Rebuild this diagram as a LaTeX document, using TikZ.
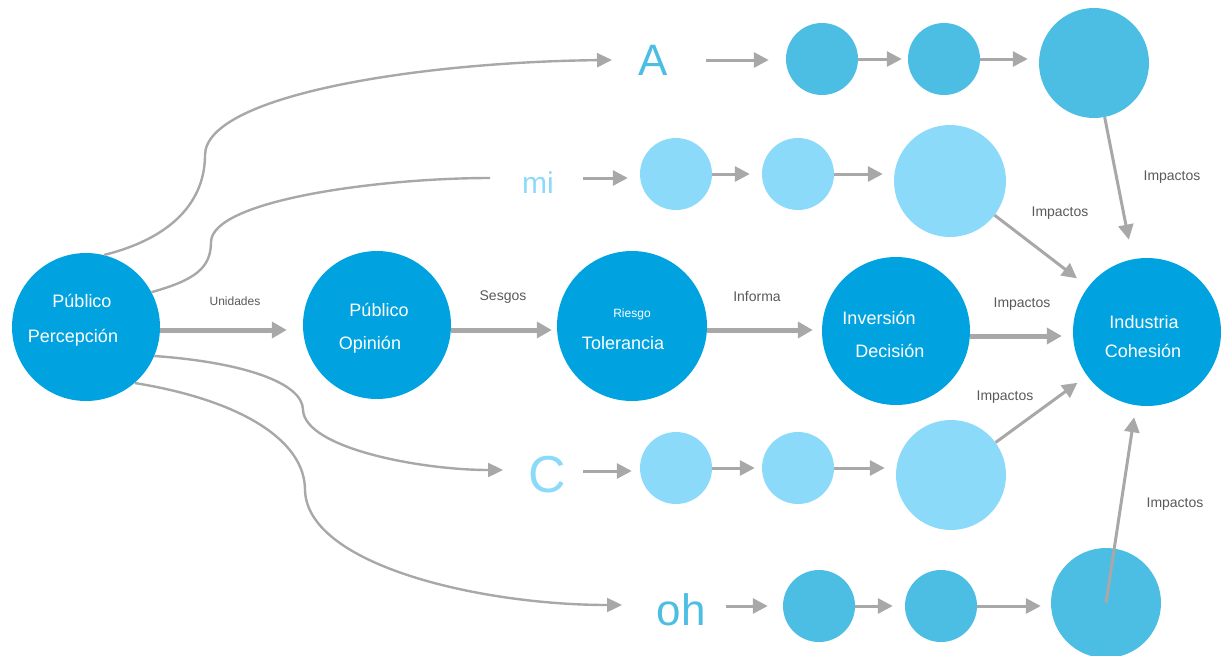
\documentclass[tikz,border=0pt]{standalone}
\usepackage{fontspec}
\setmainfont{Liberation Sans}
\usetikzlibrary{arrows.meta}
\definecolor{mainblue}{HTML}{00A3E0}
\definecolor{midblue}{HTML}{4DBEE3}
\definecolor{lightblue}{HTML}{8CDAF9}
\definecolor{linegray}{HTML}{A8A8A8}
\definecolor{labelgray}{HTML}{595959}
\newcommand{\fs}[1]{\fontsize{#1}{#1}\selectfont}
\begin{document}
\begin{tikzpicture}[x=1pt,y=-1pt,
  bubble/.style={circle, inner sep=0pt, minimum size=#1},
  hub/.style={bubble=148pt, fill=mainblue},
  midbub/.style={bubble=#1, fill=midblue},
  lightbub/.style={bubble=#1, fill=lightblue},
  intext/.style={text=white, font=\fs{18}, inner sep=0pt},
  edgelabel/.style={text=labelgray, font=\fs{14}, inner sep=0pt},
  rowlabel/.style={inner sep=0pt, font=\fs{#1}},
  mainarrow/.style={draw=linegray, line width=5pt, -{Triangle[length=15pt,width=16pt]}},
  thinarrow/.style={draw=linegray, line width=3pt, -{Triangle[length=15pt,width=15pt]}},
  curveline/.style={draw=linegray, line width=2.4pt},
  curvearrow/.style={curveline, -{Triangle[length=15pt,width=14pt]}}
]
\useasboundingbox (0,0) rectangle (1221,656);

% main chain
\node[hub] (perc) at (86,327) {};
\node[hub] (opin) at (377,325) {};
\node[hub, minimum size=150pt] (tol) at (632,326) {};
\node[hub] (inv) at (896,331) {};
\node[hub] (ind) at (1147,332) {};

\node[intext] (percA) at (82,301) {Público};
\node[intext] (percB) at (73,338) {Percepción};
\node[intext] (opinA) at (379,310) {Público};
\node[intext] (opinB) at (370,345) {Opinión};
\node[intext, font=\fs{12}] (tolA) at (632,314) {Riesgo};
\node[intext] (tolB) at (623,343) {Tolerancia};
\node[intext] (invA) at (879,318) {Inversión};
\node[intext] (invB) at (890,351) {Decisión};
\node[intext] (indA) at (1144,322) {Industria};
\node[intext] (indB) at (1143,351) {Cohesión};

\draw[mainarrow, shorten >=16pt] (perc.east |- 0,330) -- (opin.west |- 0,330);
\draw[mainarrow, shorten >=5pt] (opin.east |- 0,330) -- (tol.west |- 0,330);
\draw[mainarrow, shorten >=9pt] (tol.east |- 0,330) -- (inv.west |- 0,330);
\draw[mainarrow, shorten >=11pt] (inv.east |- 0,336) -- (ind.west |- 0,336);

\node[edgelabel, font=\fs{12}] (lu) at (235,301) {Unidades};
\node[edgelabel] (ls) at (503,297) {Sesgos};
\node[edgelabel] (li) at (757,296) {Informa};
\node[edgelabel] (lp) at (1022,304) {Impactos};

% row A
\node[rowlabel=44, text=midblue] (A) at (653,60) {A};
\coordinate (Ain) at (612,60);
\coordinate (Aout) at (706,60);
\node[midbub=72pt] (a1) at (822,59) {};
\node[midbub=72pt] (a2) at (944,59) {};
\node[midbub=110pt] (a3) at (1094,63) {};
\draw[thinarrow, shorten >=17pt] (Aout) -- (Aout -| a1.west);
\draw[thinarrow, shorten >=6pt] (a1.east) -- (a2.west);
\draw[thinarrow, shorten >=11pt] (a2.east) -- (a2.east -| a3.west);
\draw[thinarrow, shorten >=20pt] (a3) -- (ind);
\node[edgelabel] (l1) at (1172,177) {Impactos};

% row mi
\node[rowlabel=30, text=lightblue] (M) at (538,183) {mi};
\coordinate (Min) at (490,178);
\coordinate (Mout) at (583,178);
\node[lightbub=72pt] (m1) at (676,174) {};
\node[lightbub=72pt] (m2) at (798,174) {};
\node[lightbub=112pt] (m3) at (950,181) {};
\draw[thinarrow, shorten >=12pt] (Mout) -- (Mout -| m1.west);
\draw[thinarrow, shorten >=12pt] (m1.east) -- (m2.west);
\draw[thinarrow, shorten >=11pt] (m2.east) -- (m2.east -| m3.west);
\draw[thinarrow, shorten >=14pt] (m3) -- (ind);
\node[edgelabel] (l2) at (1060,213) {Impactos};

% row C
\node[rowlabel=52, text=lightblue] (C) at (547,475) {C};
\coordinate (Cin) at (503,470);
\coordinate (Cout) at (583,471);
\node[lightbub=72pt] (c1) at (676,468) {};
\node[lightbub=72pt] (c2) at (798,468) {};
\node[lightbub=110pt] (c3) at (951,475) {};
\draw[thinarrow, shorten >=8pt] (Cout) -- (Cout -| c1.west);
\draw[thinarrow, shorten >=7pt] (c1.east) -- (c2.west);
\draw[thinarrow, shorten >=11pt] (c2.east) -- (c2.east -| c3.west);
\draw[thinarrow, shorten >=12pt] (c3) -- (ind);
\node[edgelabel] (l3) at (1005,397) {Impactos};

% row oh
\node[rowlabel=44, text=midblue] (O) at (681,610) {oh};
\coordinate (Oin) at (622,605);
\coordinate (Oout) at (726,606);
\node[midbub=72pt] (o1) at (819,606) {};
\node[midbub=72pt] (o2) at (941,606) {};
\node[midbub=110pt] (o3) at (1106,603) {};
\draw[thinarrow, shorten >=15pt] (Oout) -- (Oout -| o1.west);
\draw[thinarrow, shorten >=12pt] (o1.east) -- (o2.west);
\draw[thinarrow, shorten >=10pt] (o2.east) -- (o2.east -| o3.west);
\draw[thinarrow, shorten >=12pt] (o3.center) -- (ind);
\node[edgelabel] (l4) at (1175,504) {Impactos};

% branches leaving the perception hub
\draw[curvearrow] (perc.76) .. controls (180,236) and (205,195) .. (205,155)
  .. controls (206,95) and (420,62) .. (Ain);
\draw[curveline] (perc.28) .. controls (195,280) and (211,268) .. (211,242)
  .. controls (212,200) and (380,178) .. (Min);
\draw[curvearrow] (perc.-23) .. controls (240,362) and (303,382) .. (303,410)
  .. controls (305,448) and (420,470) .. (Cin);
\draw[curvearrow] (perc.-49) .. controls (240,400) and (305,440) .. (305,490)
  .. controls (307,565) and (480,605) .. (Oin);
\end{tikzpicture}
\end{document}
